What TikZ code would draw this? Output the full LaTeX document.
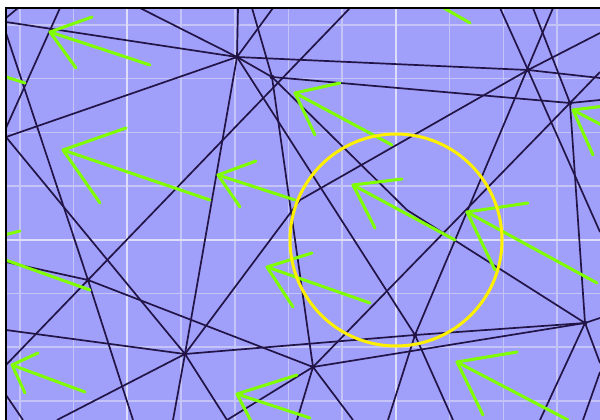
\documentclass[tikz,border=0pt]{standalone}
\begin{document}
\definecolor{bgc}{RGB}{160,160,250}
\definecolor{gridc}{RGB}{196,196,246}
\definecolor{gridm}{RGB}{222,222,250}
\definecolor{dark}{RGB}{34,20,70}
\definecolor{grn}{RGB}{128,255,0}
\definecolor{ylw}{RGB}{255,240,0}
\begin{tikzpicture}[x=1pt,y=-1pt,
  dk/.style={draw=dark,line width=1.7pt},
  ar/.style={draw=grn,line width=3pt,line cap=round,line join=round},
  gl/.style={draw=gridc,line width=1.5pt},
  gm/.style={draw=gridm,line width=2pt},
  dot/.style={fill=dark}]
\useasboundingbox (0,0) rectangle (600,420);
\fill[white] (0,0) rectangle (600,420);
\fill[bgc] (6,8) rectangle (600,420);
\begin{scope}
\clip (6,8) rectangle (600,420);
% grid
\foreach \k in {0,1,3,4,5,6,8,9,10} \draw[gl] ({20+53.7*\k},0) -- ({20+53.7*\k},420);
\foreach \k in {0,1,2,3,5,6,7} \draw[gl] (0,{25+53.7*\k}) -- (600,{25+53.7*\k});
\foreach \k in {2,7} \draw[gm] ({20+53.7*\k},0) -- ({20+53.7*\k},420);
\draw[gm] (0,239.8) -- (600,239.8);
% graph nodes
\coordinate (N1) at (237,57);
\coordinate (N2) at (272,77);
\coordinate (N3) at (528,70);
\coordinate (N4) at (570,103);
\coordinate (N5) at (88,280);
\coordinate (N6) at (185,354);
\coordinate (N7) at (313,367);
\coordinate (N8) at (415,335);
\coordinate (N9) at (585,323);
\coordinate (B) at (407,210);
\coordinate (C) at (300,200);
% edges
\draw[dk] (6,22) -- (N1);
\draw[dk] (6,33) -- (N5) -- (133,420);
\draw[dk] (60,8) -- (6,128);
\draw[dk] (6,137) -- (N1);
\draw[dk] (140,8) -- (N1) -- (N2);
\draw[dk] (238,8) -- (N1) -- (N6) -- (173,420);
\draw[dk] (252,8) -- (N2);
\draw[dk] (273,8) -- (N1);
\draw[dk] (350,8) -- (N5) -- (6,365);
\draw[dk] (N1) -- (N3) -- (600,78);
\draw[dk] (N2) -- (N4) -- (600,100);
\draw[dk] (N2) -- (N7);
\draw[dk] (N2) -- (B) -- (N9);
\draw[dk] (500,8) -- (N3) -- (600,232);
\draw[dk] (533,8) -- (N4) -- (N9);
\draw[dk] (553,8) -- (N8);
\draw[dk] (600,33) -- (N3) -- (C) -- (N6);
\draw[dk] (600,72) -- (N4) -- (N7);
\draw[dk] (N1) -- (N8) -- (453,420);
\draw[dk] (N8) -- (388,420);
\draw[dk] (6,262) -- (N5) -- (N7);
\draw[dk] (6,330) -- (N6) -- (N8) -- (N9) -- (600,318);
\draw[dk] (N7) -- (N9);
\draw[dk] (6,137) -- (N6) -- (227,420);
\draw[dk] (N7) -- (227,420);
\draw[dk] (N7) -- (297,420);
\draw[dk] (N7) -- (353,420);
\draw[dk] (N6) -- (57,420);
\draw[dk] (N9) -- (540,420);
\draw[dk] (N9) -- (600,363);
\draw[dk] (6,18) -- (18,8);
\draw[dk] (6,395) -- (23,420);
\draw[dk] (600,372) -- (583,420);
\foreach \n in {N1,N2,N3,N4,N5,N6,N7,N8,N9} \fill[dot] (\n) circle (2.3);
% arrows
\draw[ar] (92,17) -- (50,32) -- (76,68);  \draw[ar] (50,32) -- (150,65);
\draw[ar] (126,128) -- (63,150) -- (100,203); \draw[ar] (63,150) -- (210,200);
\draw[ar] (256,161) -- (218,175) -- (240,207); \draw[ar] (218,175) -- (295,200);
\draw[ar] (340,83) -- (295,93) -- (315,135); \draw[ar] (295,93) -- (392,145);
\draw[ar] (430,0) -- (470,23);
\draw[ar] (605,106) -- (573,110) -- (593,155); \draw[ar] (573,110) -- (640,145);
\draw[ar] (402,179) -- (353,185) -- (375,228); \draw[ar] (353,185) -- (455,240);
\draw[ar] (528,203) -- (467,212) -- (495,270); \draw[ar] (467,212) -- (597,283);
\draw[ar] (312,253) -- (267,267) -- (293,307); \draw[ar] (267,267) -- (370,303);
\draw[ar] (0,258) -- (90,290); \draw[ar] (0,236) -- (20,231);
\draw[ar] (0,75) -- (25,83);
\draw[ar] (38,353) -- (12,365) -- (25,393); \draw[ar] (12,365) -- (85,392);
\draw[ar] (297,375) -- (237,394) -- (253,425); \draw[ar] (237,394) -- (310,418);
\draw[ar] (517,352) -- (457,362) -- (483,415); \draw[ar] (457,362) -- (568,420);
% yellow circle
\draw[ylw,line width=3pt] (396,240) circle (106);
\end{scope}
\draw[black,line width=2.5pt] (6,420) -- (6,8) -- (600,8);
\end{tikzpicture}
\end{document}
